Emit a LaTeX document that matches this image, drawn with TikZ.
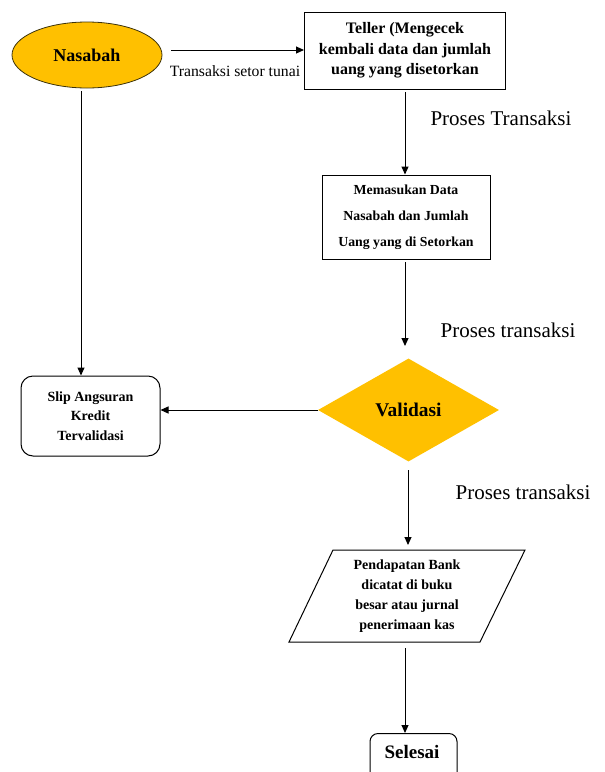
\documentclass[tikz,border=0pt]{standalone}
\usepackage{fontspec}
\setmainfont{Liberation Serif}
\usetikzlibrary{shapes.geometric,arrows.meta}
\definecolor{gold}{RGB}{255,192,0}
\definecolor{goldedge}{RGB}{60,50,10}
\tikzset{
  conn/.style={draw=black,line width=1pt,-{Triangle[length=8pt,width=7pt]}},
  boxs/.style={draw=black,line width=1pt,fill=white,align=center,inner sep=0pt},
  lbl/.style={font=\fontsize{21}{24}\selectfont,inner sep=0pt},
}
\begin{document}
\begin{tikzpicture}[x=1pt,y=-1pt]
\useasboundingbox (0,0) rectangle (605,772);
\clip (0,0) rectangle (605,772);
% Nasabah
\node[ellipse,draw=goldedge,line width=0.8pt,fill=gold,minimum width=150,minimum height=66,inner sep=0pt,font=\bfseries\fontsize{18}{20}\selectfont] (nas) at (87,55) {Nasabah};
% Teller
\node[boxs,minimum width=201,minimum height=77,font=\bfseries\fontsize{16}{20.5}\selectfont] (tel) at (405,50.5) {Teller (Mengecek\\kembali data dan jumlah\\uang yang disetorkan};
% Memasukan
\node[boxs,minimum width=168,minimum height=84,font=\bfseries\fontsize{13.8}{26}\selectfont] (mem) at (406,217) {Memasukan Data\\Nasabah dan Jumlah\\Uang yang di Setorkan};
% Validasi
\node[diamond,fill=gold,minimum width=181,minimum height=103,inner sep=0pt,font=\bfseries\fontsize{19.4}{22}\selectfont] (val) at (408.5,410) {Validasi};
% Slip
\node[boxs,rounded corners=12pt,minimum width=139,minimum height=80,font=\bfseries\fontsize{14}{19.5}\selectfont] (slip) at (90.5,416) {Slip Angsuran\\Kredit\\Tervalidasi};
% Pendapatan (parallelogram)
\draw[line width=1pt] (333,550) -- (525,550) -- (480,642) -- (289,642) -- cycle;
\node[align=center,minimum width=150,minimum height=92,inner sep=0pt,font=\bfseries\fontsize{14}{20}\selectfont] (pd) at (407,596) {Pendapatan Bank\\dicatat di buku\\besar atau jurnal\\penerimaan kas};
% Selesai
\node[boxs,rounded corners=8pt,minimum width=87,minimum height=60,anchor=north] (sel) at (413.5,733) {};
\node[font=\bfseries\fontsize{19}{22}\selectfont,inner sep=0pt] (seltxt) at (412,752) {Selesai};
% connectors
\draw[conn] (nas.east) ++(9,-5) coordinate (a1) -- (tel.west |- a1);
\node[font=\fontsize{15.7}{18}\selectfont,inner sep=0pt] (lt) at (235,71) {Transaksi setor tunai};
\coordinate (c1) at (405,92);
\draw[conn] (c1) -- (c1 |- mem.north);
\node[lbl] (l1) at (501,118) {Proses Transaksi};
\coordinate (c2) at (405,262);
\draw[conn] (c2) -- (405,346);
\node[lbl] (l2) at (508,330) {Proses transaksi};
\draw[conn] (val.west) -- (val.west -| slip.east);
\coordinate (c3) at (81,91);
\draw[conn] (c3) -- (c3 |- slip.north);
\coordinate (c4) at (408,470);
\draw[conn] (c4) -- (408,545);
\node[lbl] (l3) at (523,492) {Proses transaksi};
\coordinate (c5) at (405,648);
\draw[conn] (c5) -- (c5 |- sel.north);
\end{tikzpicture}
\end{document}
